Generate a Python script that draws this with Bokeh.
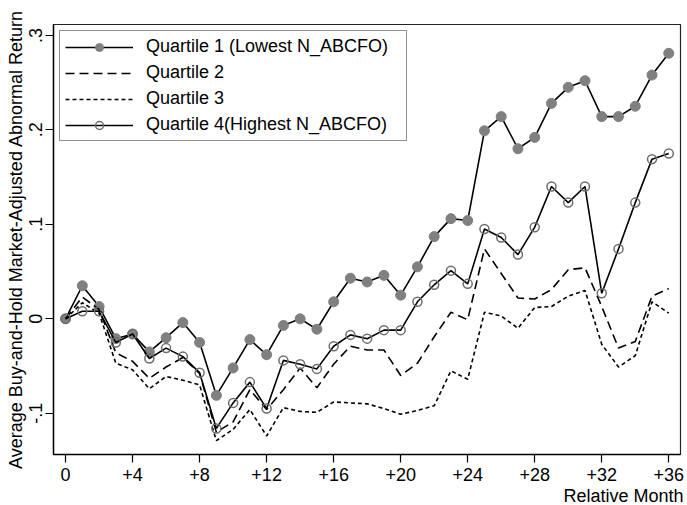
import math
from bokeh.plotting import figure
from bokeh.models import FixedTicker, Legend, LegendItem, Title, Range1d
from bokeh.embed import file_html
from bokeh.resources import INLINE

months = list(range(37))
q1 = [0, 0.035, 0.013, -0.021, -0.016, -0.035, -0.020, -0.004, -0.025, -0.081, -0.052, -0.022, -0.038,
      -0.007, 0.000, -0.011, 0.018, 0.043, 0.039, 0.046, 0.025, 0.055, 0.087, 0.106, 0.104,
      0.199, 0.214, 0.180, 0.192, 0.228, 0.245, 0.252, 0.214, 0.214, 0.225, 0.258, 0.281]
q2 = [0, 0.023, 0.010, -0.036, -0.045, -0.063, -0.051, -0.041, -0.058, -0.120, -0.109, -0.075, -0.096,
      -0.075, -0.052, -0.073, -0.048, -0.029, -0.033, -0.033, -0.060, -0.047, -0.019, 0.007, -0.001,
      0.074, 0.048, 0.022, 0.021, 0.031, 0.052, 0.054, 0.013, -0.031, -0.024, 0.024, 0.032]
q3 = [0, 0.017, 0.006, -0.047, -0.054, -0.074, -0.061, -0.065, -0.070, -0.129, -0.117, -0.096, -0.124,
      -0.094, -0.098, -0.099, -0.088, -0.089, -0.090, -0.095, -0.101, -0.097, -0.092, -0.055, -0.064,
      0.007, 0.003, -0.010, 0.012, 0.013, 0.024, 0.030, -0.027, -0.051, -0.039, 0.018, 0.006]
q4 = [0, 0.008, 0.008, -0.025, -0.016, -0.042, -0.031, -0.040, -0.057, -0.116, -0.089, -0.067, -0.095,
      -0.044, -0.048, -0.053, -0.029, -0.017, -0.021, -0.012, -0.012, 0.018, 0.036, 0.051, 0.037,
      0.095, 0.086, 0.068, 0.097, 0.140, 0.123, 0.140, 0.027, 0.074, 0.123, 0.169, 0.175]

labels = ["Quartile 1 (Lowest N_ABCFO)", "Quartile 2", "Quartile 3", "Quartile 4(Highest N_ABCFO)"]
x_ticks = list(range(0, 37, 4))
x_tick_labels = {0: "0", **{t: "+%d" % t for t in range(4, 37, 4)}}
y_ticks = [-0.1, 0, 0.1, 0.2, 0.3]
y_tick_labels = {-0.1: "-.1", 0: "0", 0.1: ".1", 0.2: ".2", 0.3: ".3"}
x_title = "Relative Month"
y_title = "Average Buy-and-Hold Market-Adjusted Abnormal Return"

FONT = "Liberation Sans"
FS = "18px"
X_MIN, X_MAX = -0.72, 36.7
Y_MIN, Y_MAX = -0.1436, 0.3115

p = figure(width=687, height=505, output_backend="svg", toolbar_location=None,
           x_range=Range1d(X_MIN, X_MAX), y_range=Range1d(Y_MIN, Y_MAX),
           min_border_left=53, min_border_right=7, min_border_top=24, min_border_bottom=4)
p.background_fill_color = "white"
p.border_fill_color = "white"
p.xgrid.visible = False
p.ygrid.visible = False
p.outline_line_color = "#222222"
p.outline_line_width = 1.2

l1 = p.line(months, q1, line_color="black", line_width=1.6)
s1 = p.scatter(months, q1, size=10, fill_color="#808080", line_color="#808080", marker="circle")
l2 = p.line(months, q2, line_color="black", line_width=1.6, line_dash="9 5")
l3 = p.line(months, q3, line_color="black", line_width=1.6, line_dash="4 3")
l4 = p.line(months, q4, line_color="black", line_width=1.6)
s4 = p.scatter(months, q4, size=9, fill_color=None, line_color="#6e6e6e", line_width=1.5, marker="circle")

for ax in (p.xaxis[0], p.yaxis[0]):
    ax.axis_line_color = "black"
    ax.axis_line_width = 1.4
    ax.major_tick_line_color = "black"
    ax.major_tick_line_width = 1.2
    ax.major_tick_out = 8
    ax.major_tick_in = 0
    ax.minor_tick_line_color = None
    ax.major_label_text_font = FONT
    ax.major_label_text_font_size = FS
    ax.major_label_text_color = "black"
    ax.axis_label_text_font = FONT
    ax.axis_label_text_font_size = FS
    ax.axis_label_text_font_style = "normal"
    ax.axis_label_text_color = "black"

p.xaxis.ticker = FixedTicker(ticks=x_ticks)
p.xaxis.major_label_overrides = x_tick_labels
p.xaxis.major_label_standoff = 5
p.yaxis.ticker = FixedTicker(ticks=y_ticks)
p.yaxis.major_label_overrides = y_tick_labels
p.yaxis.major_label_orientation = "vertical"
p.yaxis.major_label_standoff = 3
p.yaxis.axis_label = y_title
p.yaxis.axis_label_standoff = 1

p.add_layout(Title(text=x_title, align="right", text_font=FONT, text_font_size=FS,
                   text_font_style="normal", text_color="black", standoff=0, offset=-3,
                   text_line_height=1.0), "below")

legend = Legend(items=[
    LegendItem(label=labels[0], renderers=[l1, s1]),
    LegendItem(label=labels[1], renderers=[l2]),
    LegendItem(label=labels[2], renderers=[l3]),
    LegendItem(label=labels[3], renderers=[l4, s4]),
], location="top_left")
legend.label_text_font = FONT
legend.label_text_font_size = FS
legend.label_text_color = "black"
legend.glyph_width = 68
legend.glyph_height = 20
legend.label_height = 20
legend.label_width = 255
legend.spacing = 5
legend.padding = 5
legend.margin = 6
legend.label_standoff = 13
legend.border_line_color = "#222222"
legend.border_line_width = 1.2
legend.background_fill_color = "white"
legend.background_fill_alpha = 1
p.add_layout(legend, "center")

open("out.html", "w").write(file_html(p, INLINE))
